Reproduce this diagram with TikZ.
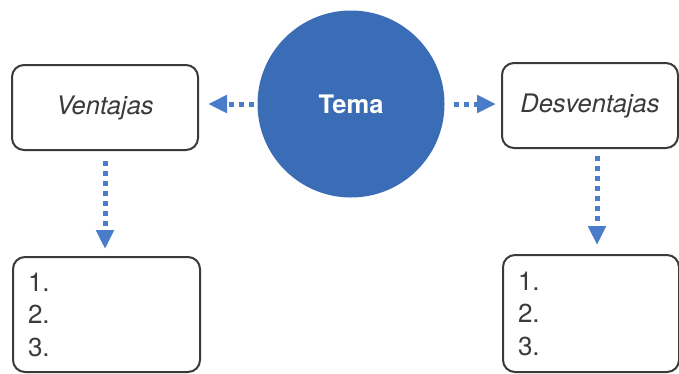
\documentclass[tikz,border=0pt]{standalone}
\usepackage{fontspec}
\setmainfont{TeX Gyre Heros}
\usetikzlibrary{arrows.meta}
\definecolor{temablue}{HTML}{3B6DB6}
\definecolor{arrowblue}{HTML}{4A7CC9}
\definecolor{boxgray}{HTML}{3A3A3A}
\tikzset{
  card/.style={draw=boxgray, line width=2pt, rounded corners=12pt, fill=white, text=boxgray},
  listcard/.style={card, align=left, inner xsep=15pt, inner ysep=0pt,
    font=\fontsize{26}{32.5}\selectfont},
  dotarrow/.style={draw=arrowblue, line width=5pt, dash pattern=on 5pt off 5pt,
    -{Triangle[length=19pt,width=17pt]}}
}
\begin{document}
\begin{tikzpicture}[x=1pt,y=-1pt]
\useasboundingbox (0,0) rectangle (679,373);
\node[circle, fill=temablue, minimum size=187pt, inner sep=0pt,
  font=\fontsize{25.5}{28}\selectfont\bfseries, text=white] (tema) at (351,104) {Tema};
\node[card, minimum width=186pt, minimum height=85pt,
  font=\fontsize{25.5}{28}\selectfont\itshape] (vent) at (105,107.5) {Ventajas};
\node[card, minimum width=176pt, minimum height=85pt,
  font=\fontsize{25.5}{28}\selectfont\itshape] (desv) at (590,105.5) {Desventajas};
\node[listcard, text width=157pt, minimum height=115pt] (lista) at (106.5,314.5) {1.\\2.\\3.};
\node[listcard, text width=146pt, minimum height=117pt] (listb) at (591,313.5) {1.\\2.\\3.};
\draw[dotarrow, shorten <=3pt, shorten >=9pt] (tema.west) -- (vent.east |- tema.west);
\draw[dotarrow, shorten <=9pt, shorten >=5pt] (tema.east) -- (desv.west |- tema.east);
\draw[dotarrow, shorten <=10pt, shorten >=7pt] (vent.south) -- (lista.north -| vent.south);
\draw[dotarrow, shorten <=7pt, shorten >=9pt] ([xshift=7pt]desv.south) -- ([xshift=7pt]desv.south |- listb.north);
\end{tikzpicture}
\end{document}
